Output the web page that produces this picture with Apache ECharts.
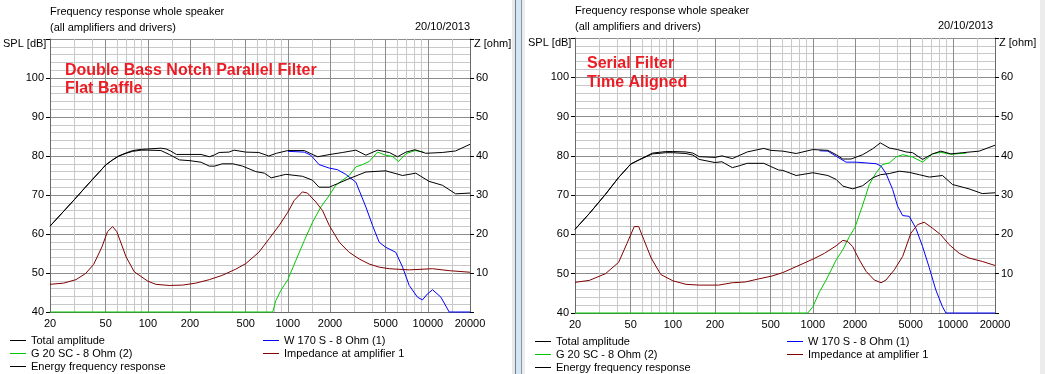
<!DOCTYPE html>
<html><head><meta charset="utf-8">
<script src="https://cdn.jsdelivr.net/npm/echarts@6/dist/echarts.min.js"></script>
<style>html,body{margin:0;padding:0;background:#fff}#c{width:1045px;height:374px}</style>
</head><body><div id="c"></div>
<script>
// ---------- axes / ticks ----------
const xTickLabels = [20, 50, 100, 200, 500, 1000, 2000, 5000, 10000, 20000];
const gridMajorFreq = [50, 100, 200, 500, 1000, 2000, 5000, 10000];
const gridMinorFreq = [30, 40, 60, 70, 80, 90, 150, 300, 400, 600, 700, 800, 900, 1500, 3000, 4000, 6000, 7000, 8000, 9000, 15000];

// ---------- LEFT panel: Double Bass Notch Parallel Filter ----------
const L_total_f  = [20, 25, 30, 35, 40, 45, 50, 56, 62, 70, 78, 90, 100, 124, 135, 145, 160, 200, 240, 275, 300, 323, 380, 413, 500, 620, 730, 830, 1000, 1310, 1460, 1630, 2000, 2460, 3060, 3610, 4370, 5300, 6070, 6970, 8100, 9660, 12700, 15800, 20000];
const L_total_db = [62.0, 65.8, 68.9, 71.6, 73.9, 75.9, 77.7, 79.0, 80.0, 80.8, 81.4, 81.7, 81.8, 82.0, 81.8, 81.3, 80.4, 80.4, 80.4, 79.8, 80.3, 80.9, 81.0, 81.5, 81.0, 80.9, 80.0, 80.7, 81.4, 81.4, 80.6, 79.8, 80.4, 80.9, 81.5, 80.2, 81.5, 80.9, 79.8, 81.0, 81.6, 80.7, 80.9, 81.3, 83.0];

const L_energy_f  = [20, 25, 30, 35, 40, 45, 50, 56, 62, 70, 78, 90, 100, 124, 142, 168, 200, 240, 275, 300, 340, 405, 475, 590, 680, 760, 870, 967, 1270, 1500, 1670, 1975, 2260, 2740, 3610, 5000, 6600, 8200, 10200, 12700, 15800, 20000];
const L_energy_db = [62.0, 65.8, 68.9, 71.6, 73.9, 75.9, 77.7, 79.0, 80.0, 80.7, 81.2, 81.5, 81.5, 81.4, 80.4, 79.0, 78.8, 78.4, 77.4, 77.4, 78.0, 78.0, 77.4, 76.0, 75.6, 74.4, 74.9, 75.3, 74.8, 73.8, 72.0, 72.0, 72.9, 74.2, 75.9, 76.2, 75.0, 75.6, 73.5, 72.5, 70.3, 70.5];

const L_woofer_f  = [1000, 1310, 1460, 1670, 1975, 2260, 2590, 3060, 3610, 4025, 4490, 5000, 5900, 6600, 7360, 8430, 9150, 9900, 10800, 12400, 14200, 20000];
const L_woofer_db = [81.2, 81.0, 80.2, 77.8, 76.9, 76.5, 75.3, 73.3, 66.9, 62.2, 57.9, 56.6, 55.3, 51.5, 46.8, 43.8, 43.1, 44.6, 45.7, 43.8, 40.0, 40.0];

const L_tweeter_f  = [20, 780, 820, 890, 1000, 1140, 1310, 1500, 1720, 1975, 2200, 2460, 2740, 3060, 3420, 3810, 4370, 5000, 5590, 6170, 6970, 8100, 9300];
const L_tweeter_db = [40.0, 40.0, 42.9, 45.5, 48.3, 53.2, 58.3, 63.0, 66.9, 69.9, 72.5, 73.8, 75.0, 77.2, 77.8, 78.6, 81.0, 80.2, 79.9, 78.6, 80.6, 81.4, 81.0];

const L_imp_f   = [20, 25, 30.7, 36, 41, 47, 51.5, 56, 60, 70, 80, 100, 114, 142, 177, 220, 275, 340, 425, 500, 620, 736, 867, 1000, 1110, 1270, 1380, 1585, 1770, 1975, 2330, 2740, 3230, 3810, 4490, 5300, 7360, 10800, 14200, 20000];
const L_imp_ohm = [7.1, 7.4, 8.3, 9.9, 12.2, 16.7, 20.6, 21.9, 20.6, 14.1, 10.3, 7.9, 7.1, 6.8, 6.9, 7.4, 8.3, 9.4, 11.0, 12.4, 15.3, 18.8, 22.2, 25.6, 28.6, 30.8, 30.5, 28.2, 26.0, 22.2, 17.9, 15.3, 13.6, 12.3, 11.5, 11.1, 10.8, 11.1, 10.6, 10.2];

// ---------- RIGHT panel: Serial Filter, Time Aligned ----------
const R_total_f  = [20, 25.3, 33, 41, 50, 57.5, 71.5, 89, 100, 124, 139, 154, 200, 224, 266, 340, 446, 500, 611, 760, 1000, 1280, 1467, 1637, 1875, 2270, 2675, 3035, 3520, 4030, 4620, 5160, 6080, 7150, 8210, 9690, 11700, 15400, 20000];
const R_total_db = [61.3, 65.3, 70.2, 74.5, 77.9, 79.0, 80.7, 81.1, 81.1, 81.0, 80.7, 79.8, 79.6, 80.0, 79.3, 81.0, 81.9, 81.4, 81.2, 80.6, 81.6, 81.4, 80.3, 79.2, 79.2, 80.3, 81.8, 83.3, 82.0, 81.6, 81.0, 80.8, 79.1, 80.5, 81.2, 80.5, 80.8, 81.2, 82.7];

const R_energy_f  = [20, 25.3, 33, 41, 50, 57.5, 71.5, 89, 100, 124, 139, 154, 200, 224, 266, 300, 340, 446, 500, 570, 611, 760, 1000, 1280, 1467, 1637, 1925, 2270, 2675, 3035, 3520, 4140, 4880, 5760, 6790, 8430, 9950, 13040, 16200, 20000];
const R_energy_db = [61.3, 65.3, 70.2, 74.5, 77.9, 79.0, 80.5, 80.8, 80.8, 80.6, 80.2, 79.1, 78.3, 78.5, 77.0, 77.5, 78.1, 78.1, 77.3, 76.4, 76.3, 75.0, 75.7, 75.0, 74.0, 72.3, 71.6, 72.4, 74.4, 75.2, 75.5, 76.1, 75.8, 75.2, 74.6, 75.0, 72.7, 71.6, 70.4, 70.6];

const R_woofer_f  = [1115, 1280, 1467, 1728, 2035, 2400, 2830, 3070, 3330, 3720, 4030, 4380, 4880, 5440, 6080, 6790, 7550, 8430, 8920, 20000];
const R_woofer_db = [81.3, 81.2, 79.9, 78.4, 78.4, 78.2, 78.0, 77.4, 75.5, 71.4, 67.2, 64.8, 64.6, 61.6, 56.9, 51.5, 45.9, 41.6, 40.0, 40.0];

const R_tweeter_f  = [20, 920, 1000, 1115, 1245, 1467, 1637, 1825, 2000, 2270, 2530, 2830, 3150, 3520, 3920, 4380, 5160, 6080, 7150, 8210, 9690, 12500];
const R_tweeter_db = [40.0, 40.0, 41.6, 45.4, 48.4, 53.5, 56.1, 59.5, 61.8, 67.5, 72.7, 75.7, 77.8, 78.2, 79.7, 80.3, 79.7, 78.4, 80.5, 80.9, 80.4, 80.7];

const R_imp_f   = [20, 25.3, 33, 41, 47, 53, 57, 62, 70, 82, 100, 124, 154, 212, 266, 330, 412, 510, 611, 760, 1000, 1211, 1467, 1637, 1775, 1925, 2150, 2400, 2750, 3070, 3330, 3820, 4380, 5010, 5600, 6250, 7150, 8210, 9410, 11100, 13040, 16300, 20000];
const R_imp_ohm = [7.8, 8.3, 10.0, 12.9, 17.7, 22.0, 22.0, 18.7, 14.0, 9.8, 8.2, 7.3, 7.1, 7.1, 7.7, 7.9, 8.7, 9.4, 10.3, 11.8, 13.7, 15.2, 17.1, 18.5, 18.2, 16.9, 13.5, 10.6, 8.4, 7.7, 8.4, 11.0, 14.4, 20.3, 22.5, 23.1, 21.6, 19.9, 17.4, 15.2, 14.0, 13.1, 12.1];

// ---------- names / colours ----------
const N_TOTAL = 'Total amplitude', N_TW = 'G 20 SC - 8 Ohm (2)', N_EN = 'Energy frequency response',
      N_WO = 'W 170 S - 8 Ohm (1)', N_IMP = 'Impedance at amplifier 1';
const C_BLACK = '#000000', C_GREEN = '#00c800', C_BLUE = '#0000ff', C_RED = '#800000';
const FONT = 'Liberation Sans, Arial, sans-serif';
const MAJOR = '#8c8c8c', MINOR = '#c8c8c8';
const RED_TXT = '#ec1c24';

function zip(f, v) { return f.map((x, i) => [x, v[i]]); }
function curve(name, f, v, color, xi, yi, z) {
  return { type: 'line', name, xAxisIndex: xi, yAxisIndex: yi, data: zip(f, v),
    symbol: 'none', showSymbol: false, clip: false, silent: true, animation: false, z,
    lineStyle: { color, width: 1 }, itemStyle: { color } };
}
function gridSeries(xi, yi) {
  return { type: 'line', name: '_grid' + xi, xAxisIndex: xi, yAxisIndex: yi, data: [], silent: true, animation: false,
    markLine: { silent: true, z: 1, symbol: ['none', 'none'], label: { show: false }, animation: false,
      data: gridMinorFreq.map(f => ({ xAxis: f, lineStyle: { color: MINOR, width: 1, type: 'solid' } }))
        .concat(gridMajorFreq.map(f => ({ xAxis: f, lineStyle: { color: MAJOR, width: 1, type: 'solid' } }))) } };
}
function xAx(gi) {
  return { gridIndex: gi, type: 'log', logBase: 10, min: 20, max: 20000,
    axisLine: { show: true, lineStyle: { color: '#6a6a6a' } }, axisTick: { show: false },
    axisLabel: { customValues: xTickLabels, margin: 6, color: '#000', fontSize: 11, fontFamily: FONT, formatter: v => String(v) },
    splitLine: { show: false } };
}
function ySpl(gi) {
  return { gridIndex: gi, type: 'value', min: 40, max: 110, interval: 10, position: 'left',
    axisLine: { show: true, lineStyle: { color: '#6a6a6a' } },
    axisTick: { show: true, inside: false, length: 4, lineStyle: { color: '#000' } },
    axisLabel: { margin: 6, color: '#000', fontSize: 11, fontFamily: FONT, formatter: v => (v >= 110 ? '' : String(v)) },
    splitLine: { show: true, lineStyle: { color: MAJOR } },
    minorTick: { show: false, splitNumber: 5 }, minorSplitLine: { show: true, lineStyle: { color: MINOR } } };
}
function yZ(gi) {
  return { gridIndex: gi, type: 'value', min: 0, max: 70, interval: 10, position: 'right',
    axisLine: { show: true, lineStyle: { color: '#6a6a6a' } },
    axisTick: { show: true, inside: false, length: 4, lineStyle: { color: '#000' } },
    axisLabel: { margin: 6, color: '#000', fontSize: 11, fontFamily: FONT, formatter: v => (v <= 0 || v >= 70 ? '' : String(v)) },
    splitLine: { show: false } };
}
// legend entries: [name, colour, left, top]
const legendEntries = [
  [N_TOTAL, C_BLACK, 10, 334], [N_TW, C_GREEN, 10, 347], [N_EN, C_BLACK, 10, 360],
  [N_WO, C_BLUE, 263, 334], [N_IMP, C_RED, 263, 347],
  [N_TOTAL, C_BLACK, 535, 335], [N_TW, C_GREEN, 535, 348], [N_EN, C_BLACK, 535, 361],
  [N_WO, C_BLUE, 787, 335], [N_IMP, C_RED, 787, 348]
];
function legendItem(e) {
  const [name, color, left, top] = e;
  return { data: [{ name, icon: 'rect', itemStyle: { color: 'rgba(0,0,0,0)', borderWidth: 0 }, lineStyle: { color: 'rgba(0,0,0,0)', width: 0 } }],
    left, top, orient: 'horizontal', selectedMode: false, padding: 0,
    itemWidth: 16, itemHeight: 1, icon: 'rect',
    textStyle: { color: '#000', fontSize: 11, fontFamily: FONT, lineHeight: 13 } };
}
function legendSwatch(e) {
  const [name, color, left, top] = e;
  return { type: 'rect', z: 200, silent: true, shape: { x: left, y: top + 6, width: 16, height: 1 }, style: { fill: color } };
}
function txt(text, x, y, opts) {
  return { type: 'text', x, y, z: 100, silent: true,
    style: Object.assign({ text, fill: '#000', font: '11px ' + FONT, align: 'left', verticalAlign: 'middle' }, opts || {}) };
}

const option = {
  animation: false,
  textStyle: { fontFamily: FONT },
  grid: [
    { left: 50, top: 39, width: 420, height: 273 },
    { left: 575, top: 38, width: 420, height: 275 }
  ],
  xAxis: [xAx(0), xAx(1)],
  yAxis: [ySpl(0), yZ(0), ySpl(1), yZ(1)],
  legend: legendEntries.map(legendItem),
  series: [
    gridSeries(0, 0), gridSeries(1, 2),
    curve(N_TW, L_tweeter_f, L_tweeter_db, C_GREEN, 0, 0, 3),
    curve(N_WO, L_woofer_f, L_woofer_db, C_BLUE, 0, 0, 3),
    curve(N_IMP, L_imp_f, L_imp_ohm, C_RED, 0, 1, 3),
    curve(N_EN, L_energy_f, L_energy_db, C_BLACK, 0, 0, 3),
    curve(N_TOTAL, L_total_f, L_total_db, C_BLACK, 0, 0, 3),
    curve(N_TW, R_tweeter_f, R_tweeter_db, C_GREEN, 1, 2, 3),
    curve(N_WO, R_woofer_f, R_woofer_db, C_BLUE, 1, 2, 3),
    curve(N_IMP, R_imp_f, R_imp_ohm, C_RED, 1, 3, 3),
    curve(N_EN, R_energy_f, R_energy_db, C_BLACK, 1, 2, 3),
    curve(N_TOTAL, R_total_f, R_total_db, C_BLACK, 1, 2, 3)
  ],
  graphic: [
    // panel divider
    { type: 'rect', shape: { x: 512, y: 0, width: 3, height: 374 }, style: { fill: '#e9e9e9' }, silent: true },
    { type: 'rect', shape: { x: 515, y: 0, width: 1, height: 374 }, style: { fill: '#6f7f8c' }, silent: true },
    { type: 'rect', shape: { x: 516, y: 0, width: 6, height: 374 }, style: { fill: '#d3e6f6' }, silent: true },
    { type: 'rect', shape: { x: 521, y: 0, width: 1, height: 374 }, style: { fill: '#8696a3' }, silent: true },
    { type: 'rect', shape: { x: 522, y: 0, width: 3, height: 374 }, style: { fill: '#ececec' }, silent: true },
    { type: 'rect', shape: { x: 1040, y: 0, width: 5, height: 374 }, style: { fill: '#ececec' }, silent: true },
    // left panel texts
    txt('Frequency response whole speaker', 50, 12),
    txt('(all amplifiers and drivers)', 50, 28),
    txt('20/10/2013', 470, 27, { align: 'right' }),
    txt('SPL [dB]', 3, 44),
    txt('Z [ohm]', 474, 44),
    txt('Double Bass Notch Parallel Filter', 65, 71, { font: 'bold 16px ' + FONT, fill: RED_TXT }),
    txt('Flat Baffle', 65, 89, { font: 'bold 16px ' + FONT, fill: RED_TXT }),
    // right panel texts
    txt('Frequency response whole speaker', 575, 11),
    txt('(all amplifiers and drivers)', 575, 27),
    txt('20/10/2013', 993, 26, { align: 'right' }),
    txt('SPL [dB]', 528, 43),
    txt('Z [ohm]', 999, 43),
    txt('Serial Filter', 587, 64, { font: 'bold 16px ' + FONT, fill: RED_TXT }),
    txt('Time Aligned', 587, 83, { font: 'bold 16px ' + FONT, fill: RED_TXT })
  ].concat(legendEntries.map(legendSwatch))
};
const chart = echarts.init(document.getElementById('c'), null, { renderer: 'canvas' });
chart.setOption(option);
</script></body></html>
